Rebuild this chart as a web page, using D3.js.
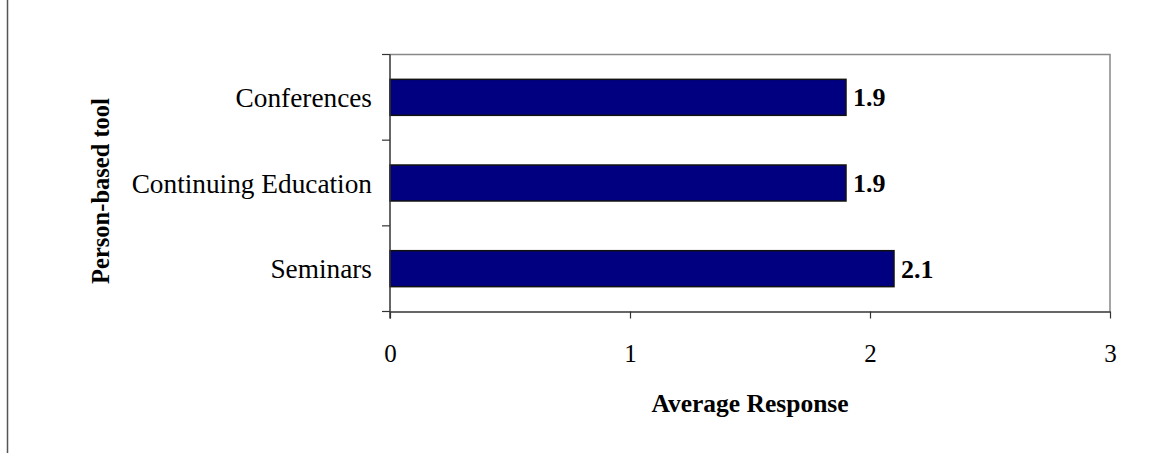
<!DOCTYPE html>
<html>
<head>
<meta charset="utf-8">
<script src="https://cdn.jsdelivr.net/npm/d3@7"></script>
<style>
  html, body { margin: 0; padding: 0; background: #fff; }
  svg { display: block; }
  text { font-family: "Liberation Serif", "Times New Roman", serif; fill: #000; }
</style>
</head>
<body>
<svg id="chart" width="1159" height="453"></svg>
<script>
// Average response per person-based tool
const categories = ["Conferences", "Continuing Education", "Seminars"];
const values = [1.9, 1.9, 2.1];
const xTicks = [0, 1, 2, 3];
const xTitle = "Average Response";
const yTitle = "Person-based tool";

const svg = d3.select("#chart");
const W = 1159, H = 453;
const plot = { left: 390, right: 1110, top: 54.5, bottom: 311.5 };

// page frame line on the left edge
svg.append("line")
  .attr("x1", 7.5).attr("x2", 7.5).attr("y1", 0).attr("y2", H)
  .attr("stroke", "#555").attr("stroke-width", 1.5);

const x = d3.scaleLinear().domain([0, 3]).range([plot.left, plot.right]);
const y = d3.scaleBand().domain(categories).range([plot.top, plot.bottom]).paddingInner(0.58).paddingOuter(0.29);
const yEdges = d3.scaleLinear().domain([0, categories.length]).range([plot.top, plot.bottom]);

// plot area border (top and right)
svg.append("path")
  .attr("d", `M${plot.left},${plot.top}H${plot.right}V${plot.bottom}`)
  .attr("fill", "none").attr("stroke", "#888").attr("stroke-width", 1.5);

// bars
svg.append("g").selectAll("rect")
  .data(categories)
  .join("rect")
  .attr("x", x(0))
  .attr("y", d => y(d))
  .attr("width", (d, i) => x(values[i]) - x(0))
  .attr("height", y.bandwidth())
  .attr("fill", "#000080")
  .attr("stroke", "#111")
  .attr("stroke-width", 1.5);

// value labels
svg.append("g").selectAll("text")
  .data(categories)
  .join("text")
  .attr("x", (d, i) => x(values[i]) + 7)
  .attr("y", d => y(d) + y.bandwidth() / 2)
  .attr("dy", "0.35em")
  .attr("font-size", 26)
  .attr("font-weight", "bold")
  .text((d, i) => d3.format(".1f")(values[i]));

// x axis
const xAxis = svg.append("g")
  .attr("transform", `translate(0,${plot.bottom})`)
  .call(d3.axisBottom(x).tickValues(xTicks).tickFormat(d3.format("d")).tickSize(7).tickSizeOuter(0).tickPadding(26));
xAxis.select(".domain").attr("stroke", "#333").attr("stroke-width", 1.5);
xAxis.selectAll(".tick line").attr("stroke", "#333").attr("stroke-width", 1.2);
xAxis.selectAll(".tick text")
  .attr("font-size", 25)
  .attr("font-family", "Liberation Serif, serif")
  .attr("fill", "#000");

// y axis: category labels plus ticks on band edges
svg.append("line")
  .attr("x1", plot.left).attr("x2", plot.left)
  .attr("y1", plot.top).attr("y2", plot.bottom + 7)
  .attr("stroke", "#333").attr("stroke-width", 1.5);
svg.append("g").selectAll("line")
  .data(d3.range(categories.length + 1))
  .join("line")
  .attr("x1", plot.left - 8).attr("x2", plot.left)
  .attr("y1", d => yEdges(d)).attr("y2", d => yEdges(d))
  .attr("stroke", "#333").attr("stroke-width", 1.2);
svg.append("g").selectAll("text")
  .data(categories)
  .join("text")
  .attr("x", plot.left - 18)
  .attr("y", d => y(d) + y.bandwidth() / 2)
  .attr("dy", "0.35em")
  .attr("text-anchor", "end")
  .attr("font-size", 27.3)
  .text(d => d);

// axis titles
svg.append("text")
  .attr("x", (plot.left + plot.right) / 2)
  .attr("y", 412)
  .attr("text-anchor", "middle")
  .attr("font-size", 25.5)
  .attr("font-weight", "bold")
  .text(xTitle);

svg.append("text")
  .attr("transform", "translate(109,191) rotate(-90)")
  .attr("text-anchor", "middle")
  .attr("font-size", 24.5)
  .attr("font-weight", "bold")
  .text(yTitle);
</script>
</body>
</html>
